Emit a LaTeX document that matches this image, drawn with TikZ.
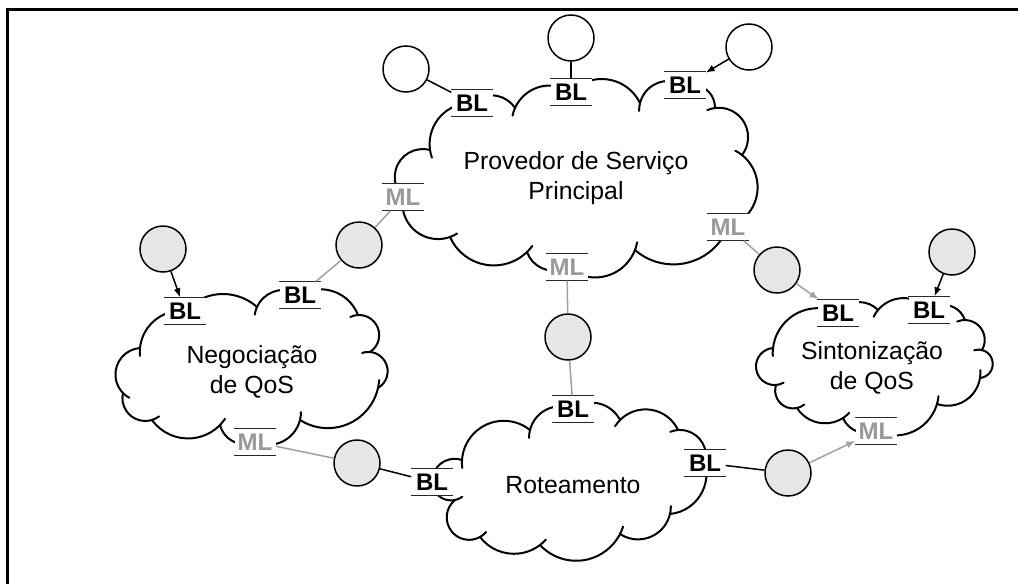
\documentclass[tikz,border=0pt]{standalone}
\usepackage{fontspec}
\setmainfont{Liberation Sans}
\usetikzlibrary{arrows.meta}
\definecolor{lgray}{HTML}{A0A0A0}
\definecolor{mgray}{HTML}{999999}
\definecolor{cfill}{HTML}{E6E6E6}
\newcommand{\clhook}{8}
% one puff of a cloud: arc from (xa,ya) to (xb,yb) (picture coords, y down), arc angle phi
\newcommand{\cloudarc}[5]{%
  \pgfmathsetmacro{\clxa}{#1}%
  \pgfmathsetmacro{\clya}{-(#2)}%
  \pgfmathsetmacro{\clxb}{#3}%
  \pgfmathsetmacro{\clyb}{-(#4)}%
  \pgfmathsetmacro{\clph}{#5}%
  \pgfmathsetmacro{\clc}{veclen(\clxb-\clxa,\clyb-\clya)}%
  \pgfmathsetmacro{\cldx}{(\clxb-\clxa)/\clc}%
  \pgfmathsetmacro{\cldy}{(\clyb-\clya)/\clc}%
  \pgfmathsetmacro{\clr}{\clc/(2*sin(\clph/2))}%
  \pgfmathsetmacro{\clox}{(\clxa+\clxb)/2-\cldy*\clr*cos(\clph/2)}%
  \pgfmathsetmacro{\cloy}{(\clya+\clyb)/2+\cldx*\clr*cos(\clph/2)}%
  \pgfmathsetmacro{\clas}{atan2(\clya-\cloy,\clxa-\clox)}%
  \pgfmathsetmacro{\clae}{\clas+\clph+\clhook*180/(3.14159*\clr)}%
  \draw[cloudline] (\clox pt,\cloy pt) ++(\clas:\clr pt) arc[start angle=\clas, end angle=\clae, radius=\clr pt];%
}
\newcommand{\drawcloud}[1]{%
  \foreach \qa/\qb/\qc/\qd/\qe in {#1}{\cloudarc{\qa}{\qb}{\qc}{\qd}{\qe}}%
}
\tikzset{
  cloudline/.style={line width=2pt, line cap=round},
  lbl/.style={fill=white, font=\fontsize{24}{24}\selectfont\bfseries, minimum width=41pt, minimum height=27pt, inner sep=0pt, text height=17pt, text depth=0pt},
  bl/.style={lbl},
  ml/.style={lbl, text=mgray},
  rulel/.style={line width=1.5pt, black!85},
  wcirc/.style={circle, draw, line width=1.5pt, minimum size=46pt, inner sep=0pt, fill=white},
  gcirc/.style={wcirc, fill=cfill},
  blk/.style={line width=1.5pt, black},
  gry/.style={line width=1.5pt, lgray},
  tip/.style={-{Latex[length=9pt,width=7pt]}},
  ctext/.style={font=\fontsize{24.8}{30}\selectfont, align=center},
}
\begin{document}
\begin{tikzpicture}[x=1pt,y=1pt]
\useasboundingbox (0,0) rectangle (1018,-584);
\draw[line width=3pt] (7,-584) -- (7,-9) -- (1018,-9);
% clouds (puffs listed counterclockwise)
\drawcloud{635/250/728/227/110, 728/227/742/155/125, 742/155/715/108/135, 715/108/685/86/110,
  685/86/640/103/110, 640/103/571/92/110, 571/92/515/108/100, 515/108/472/103/100,
  472/103/430/150/100, 430/150/403/197/150, 403/197/450/237/120, 450/237/527/252/110,
  527/252/567/267/100, 567/267/635/250/110}
\drawcloud{378/388/370/352/145, 370/352/358/315/150, 358/315/300/295/100, 300/295/257/307/100,
  257/307/185/311/90, 185/311/140/348/90, 140/348/123/393/130, 123/393/152/420/120,
  152/420/220/425/100, 220/425/255/442/100, 255/442/300/420/100, 300/420/378/388/110}
\drawcloud{929/310/878/310/100, 878/310/838/313/100, 838/313/773/348/110, 773/348/776/385/180,
  776/385/797/408/120, 797/408/843/418/90, 843/418/876/431/90, 876/431/937/404/100,
  937/404/980/378/100, 980/378/982/350/160, 982/350/965/320/120, 965/320/929/310/110}
\drawcloud{705/463/678/430/110, 678/430/620/420/110, 620/420/573/409/100, 573/409/530/430/100,
  530/430/462/460/125, 462/460/432/482/110, 432/482/455/500/100, 455/500/480/537/170,
  480/537/540/545/90, 540/545/620/534/110, 620/534/670/514/110, 670/514/705/463/100}
% cloud texts
\node[ctext] (tP) at (576,-178) {Provedor de Serviço\\Principal};
\node[ctext] (tN) at (252,-372) {Negociação\\de QoS};
\node[ctext] (tS) at (872,-368) {Sintonização\\de QoS};
\node[ctext] (tR) at (573,-485) {Roteamento};
% labels
\node[bl] (b1) at (472,-103) {BL};
\node[bl] (b2) at (571,-92) {BL};
\node[bl] (b3) at (685,-85) {BL};
\node[ml] (mTL) at (403,-197) {ML};
\node[ml] (mB) at (567,-267) {ML};
\node[ml] (mR) at (728,-227) {ML};
\node[bl] (bL1) at (185,-311) {BL};
\node[bl] (bL2) at (300,-295) {BL};
\node[ml] (mL) at (255,-442) {ML};
\node[bl] (bR1) at (838,-313) {BL};
\node[bl] (bR2) at (929,-310) {BL};
\node[ml] (mRB) at (876,-431) {ML};
\node[bl] (bT) at (573,-409) {BL};
\node[bl] (bBL) at (432,-482) {BL};
\node[bl] (bBR) at (705,-463) {BL};
\foreach \n in {b1,b2,b3,mTL,mB,mR,bL1,bL2,mL,bR1,bR2,mRB,bT,bBL,bBR}{
  \draw[rulel] (\n.north west) -- (\n.north east) (\n.south west) -- (\n.south east);
}
% circles
\node[wcirc] (c1) at (406,-69) {};
\node[wcirc] (c2) at (571,-38) {};
\node[wcirc] (c3) at (749,-47) {};
\node[gcirc] (g1) at (163,-249) {};
\node[gcirc] (g2) at (359,-245) {};
\node[gcirc] (g3) at (568,-337) {};
\node[gcirc] (g4) at (777,-270) {};
\node[gcirc] (g5) at (952,-252) {};
\node[gcirc] (g6) at (357,-463) {};
\node[gcirc] (g7) at (788,-473) {};
% connectors
\draw[blk] (c1) -- (b1);
\draw[blk] (c2) -- (b2);
\draw[blk,tip] (c3) -- (b3);
\draw[blk,tip] (g1) -- (bL1);
\draw[gry] (g2) -- (bL2);
\draw[gry] (g2) -- (mTL);
\draw[gry] (g3) -- (mB);
\draw[gry] (g3) -- (bT);
\draw[gry] (g4) -- (mR);
\draw[gry,tip] (g4) -- (bR1);
\draw[blk,tip] (g5) -- (bR2);
\draw[gry] (g6) -- (mL);
\draw[blk] (g6) -- (bBL);
\draw[blk] (bBR) -- (g7);
\draw[gry,tip] (g7) -- (mRB);
\end{tikzpicture}
\end{document}
